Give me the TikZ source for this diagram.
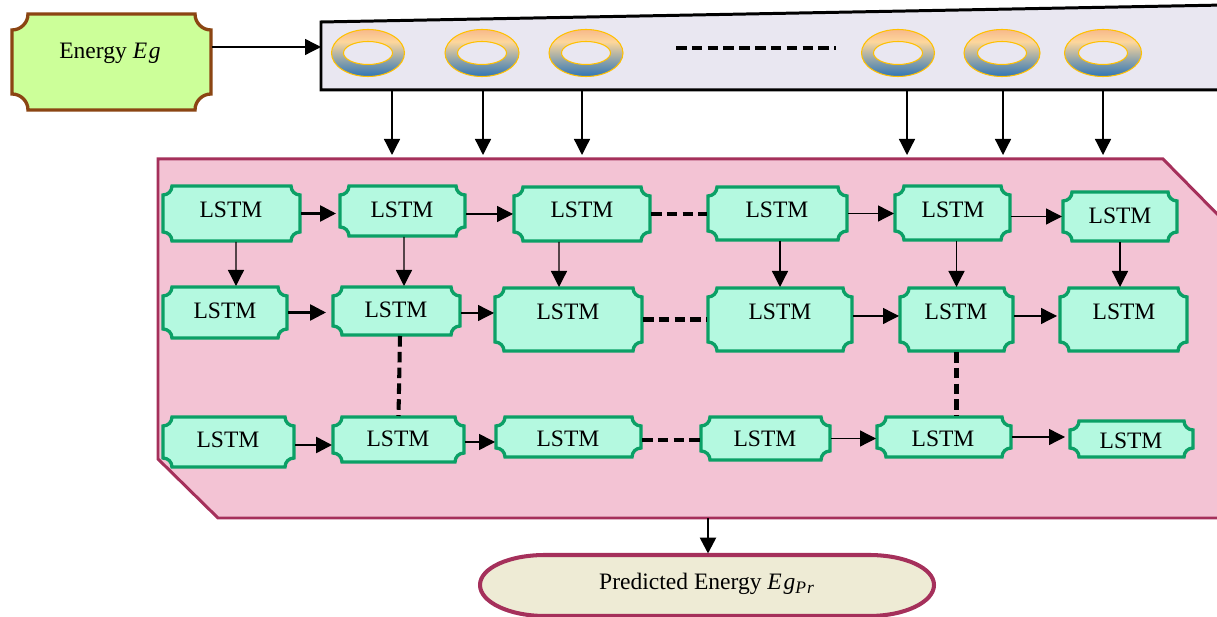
\documentclass[tikz,border=0pt]{standalone}
\usepackage{fontspec}
\setmainfont{Liberation Serif}
\usepackage{xcolor}
\usetikzlibrary{arrows.meta}
\definecolor{stripfill}{HTML}{E9E7F1}
\definecolor{panefill}{HTML}{F3C3D4}
\definecolor{paneline}{HTML}{A5305B}
\definecolor{lstmfill}{HTML}{B4F9E0}
\definecolor{lstmline}{HTML}{0BA066}
\definecolor{energyfill}{HTML}{CCFF99}
\definecolor{energyline}{HTML}{8B4513}
\definecolor{predfill}{HTML}{EEEBD5}
\definecolor{ringline}{HTML}{FFC000}
\definecolor{ringtop}{HTML}{F7B98B}
\definecolor{ringmid}{HTML}{FDD79C}
\definecolor{ringlow}{HTML}{2E75B6}
\pgfdeclareverticalshading{ringshade}{100bp}{color(0bp)=(ringlow); color(25bp)=(ringlow); color(62bp)=(ringmid); color(75bp)=(ringtop); color(100bp)=(ringtop)}
\tikzset{
  labeltext/.style={font=\fontsize{13.4}{16}\selectfont,inner sep=0pt},
  boxarea/.style={inner sep=0pt,outer sep=0pt},
  lstmshape/.style={draw=lstmline,fill=lstmfill,line width=1.9pt},
  energyshape/.style={draw=energyline,fill=energyfill,line width=1.9pt},
  conn/.style={line width=0.75pt,-{Triangle[length=3.2mm,width=3.2mm]}},
  connb/.style={line width=1.5pt,-{Triangle[length=3.2mm,width=3.2mm]}},
  dashline/.style={line width=2.3pt,dash pattern=on 6pt off 3pt},
}
% concave corners: style, x0, y0, x1, y1, radius
\newcommand{\plaquepath}[6]{
  \draw[#1] ({#2+#6},{#3}) -- ({#4-#6},{#3})
    .. controls ({#4-#6},{#3+0.55*#6}) and ({#4-0.55*#6},{#3+#6}) .. ({#4},{#3+#6})
    -- ({#4},{#5-#6})
    .. controls ({#4-0.55*#6},{#5-#6}) and ({#4-#6},{#5-0.55*#6}) .. ({#4-#6},{#5})
    -- ({#2+#6},{#5})
    .. controls ({#2+#6},{#5-0.55*#6}) and ({#2+0.55*#6},{#5-#6}) .. ({#2},{#5-#6})
    -- ({#2},{#3+#6})
    .. controls ({#2+0.55*#6},{#3+#6}) and ({#2+#6},{#3+0.55*#6}) .. ({#2+#6},{#3}) -- cycle;
}
% name, x0, y0, x1, y1, text x, text y
\newcommand{\lstmbox}[7]{
  \plaquepath{lstmshape}{#2+1}{#3+1}{#4-1}{#5-1}{9}
  \node[boxarea,minimum width={(#4-#2)*0.02cm},minimum height={(#5-#3)*0.02cm}] (#1) at ({(#2+#4)/2},{(#3+#5)/2}) {};
  \node[labeltext] (#1t) at (#6,{#7+1}) {LSTM};
}
\newcommand{\ring}[2]{
  \shade[shading=ringshade,draw=ringline,line width=0.6pt] (#1,53) ellipse [x radius=#2,y radius=23.5];
  \draw[ringline,fill=stripfill,line width=0.6pt] (#1,53) ellipse [x radius=24.5,y radius=11.5];
}
\begin{document}
\begin{tikzpicture}[x=0.02cm,y=-0.02cm]
\useasboundingbox (0,0) rectangle (1217,617);
% input strip
\draw[line width=1.7pt,fill=stripfill] (321,22)--(1225,5)--(1225,90)--(321,90)--cycle;
\ring{368}{36.5}
\ring{482}{37}
\ring{586}{37}
\ring{898}{36.5}
\ring{1002}{38}
\ring{1103}{38.5}
\coordinate (stripW) at (321,47);
\coordinate (stripDa) at (676,48);
\coordinate (stripDb) at (836,48);
\coordinate (outA) at (392,90);
\coordinate (outB) at (483,90);
\coordinate (outC) at (582,90);
\coordinate (outD) at (907,90);
\coordinate (outE) at (1003,90);
\coordinate (outF) at (1103,90);
\coordinate (paneTop) at (158,155);
\coordinate (paneOut) at (708,518);
\draw[dashline] (stripDa) -- (stripDb);
% energy box
\plaquepath{energyshape}{12}{14}{211}{110}{16}
\node[boxarea,minimum width=4.02cm,minimum height=1.96cm] (energy) at (111.5,62) {};
\node[labeltext] (energyt) at (110,53) {Energy \textit{E\kern1pt g}};
\draw[conn] (energy.east |- stripW) -- (stripW);
% pane
\draw[draw=paneline,fill=panefill,line width=1.7pt] (158,159)--(1163,159)--(1225,222)--(1225,518)--(218,518)--(158,459)--cycle;
\draw[conn] (outA) -- (outA |- paneTop);
\draw[conn] (outB) -- (outB |- paneTop);
\draw[conn] (outC) -- (outC |- paneTop);
\draw[conn] (outD) -- (outD |- paneTop);
\draw[conn] (outE) -- (outE |- paneTop);
\draw[conn] (outF) -- (outF |- paneTop);
% first row
\lstmbox{lstmAa}{162}{185}{301}{242}{231}{209}
\lstmbox{lstmAb}{339}{185}{466}{237}{402}{209}
\lstmbox{lstmAc}{513}{186}{651}{242}{582}{209}
\lstmbox{lstmAd}{707}{186}{848}{241}{777}{209}
\lstmbox{lstmAe}{894}{185}{1011}{241}{953}{209}
\lstmbox{lstmAf}{1062}{191}{1178}{242}{1120}{215}
% second row
\lstmbox{lstmBa}{162}{286}{288}{339}{225}{310}
\lstmbox{lstmBb}{332}{286}{461}{336}{396}{309}
\lstmbox{lstmBc}{494}{287}{643}{352}{568}{311}
\lstmbox{lstmBd}{707}{287}{853}{352}{780}{311}
\lstmbox{lstmBe}{899}{287}{1014}{352}{956}{311}
\lstmbox{lstmBf}{1059}{287}{1188}{352}{1124}{311}
% third row
\lstmbox{lstmCa}{162}{416}{295}{468}{228}{439}
\lstmbox{lstmCb}{332}{416}{465}{463}{398}{438}
\lstmbox{lstmCc}{495}{416}{642}{458}{568}{438}
\lstmbox{lstmCd}{700}{416}{831}{461}{765}{438}
\lstmbox{lstmCe}{876}{416}{1012}{458}{943}{438}
\lstmbox{lstmCf}{1069}{420}{1194}{458}{1131}{440}
% row links
\draw[connb,shorten >=0.06cm] (lstmAa.east) -- (lstmAa.east -| lstmAb.west);
\draw[conn] (lstmAb.east |- lstmAc.west) -- (lstmAc.west);
\draw[dashline] (lstmAc.east) -- (lstmAc.east -| lstmAd.west);
\draw[conn] (lstmAd.east) -- (lstmAd.east -| lstmAe.west);
\draw[conn] (lstmAe.east |- lstmAf.west) -- (lstmAf.west);
\draw[connb,shorten >=0.12cm] (lstmBa.east) -- (lstmBa.east -| lstmBb.west);
\draw[conn] ([yshift=-0.04cm]lstmBb.east) -- ([yshift=-0.04cm]lstmBb.east -| lstmBc.west);
\draw[dashline] (lstmBc.east) -- (lstmBd.west);
\draw[conn] ([yshift=0.07cm]lstmBd.east) -- ([yshift=0.07cm]lstmBe.west);
\draw[conn,shorten >=0.04cm] ([yshift=0.07cm]lstmBe.east) -- ([yshift=0.07cm]lstmBf.west);
\draw[connb] ([yshift=-0.06cm]lstmCa.east) -- ([yshift=-0.06cm]lstmCa.east -| lstmCb.west);
\draw[connb,line width=0.9pt] ([yshift=-0.05cm]lstmCb.east) -- ([yshift=-0.05cm]lstmCb.east -| lstmCc.west);
\draw[dashline] ([yshift=-0.06cm]lstmCc.east) -- ([yshift=-0.06cm]lstmCc.east -| lstmCd.west);
\draw[conn] (lstmCd.east) -- (lstmCd.east -| lstmCe.west);
\draw[conn,shorten >=0.08cm] (lstmCe.east) -- (lstmCe.east -| lstmCf.west);
% column links
\draw[conn] ([xshift=0.09cm]lstmAa.south) -- ([xshift=0.22cm]lstmBa.north);
\draw[conn] ([xshift=0.03cm]lstmAb.south) -- ([xshift=0.15cm]lstmBb.north);
\draw[conn] ([xshift=-0.46cm]lstmAc.south) -- ([xshift=-0.19cm]lstmBc.north);
\draw[conn] (lstmBd.north |- lstmAd.south) -- (lstmBd.north);
\draw[conn] (lstmBe.north |- lstmAe.south) -- (lstmBe.north);
\draw[conn] (lstmAf.south) -- (lstmAf.south |- lstmBf.north);
\draw[dashline] ([xshift=0.07cm]lstmBb.south) -- (lstmCb.north);
\draw[dashline] (lstmBe.south) -- (lstmBe.south |- lstmCe.north);
% output
\draw[draw=paneline,fill=predfill,line width=2.3pt] (545,555) -- (869,555)
  .. controls (905,555) and (934,568) .. (934,585)
  .. controls (934,602) and (905,616) .. (869,616) -- (545,616)
  .. controls (509,616) and (480,602) .. (480,585)
  .. controls (480,568) and (509,555) .. (545,555) -- cycle;
\node[boxarea,minimum width=9.12cm,minimum height=1.26cm] (pred) at (707,585) {};
\node[labeltext] (predt) at (707,584) {Predicted Energy \textit{E\kern1pt g}\textsubscript{\fontsize{10}{12}\selectfont\textit{P\kern0.5pt r}}};
\draw[connb] (paneOut) -- (paneOut |- pred.north);
\end{tikzpicture}
\end{document}
